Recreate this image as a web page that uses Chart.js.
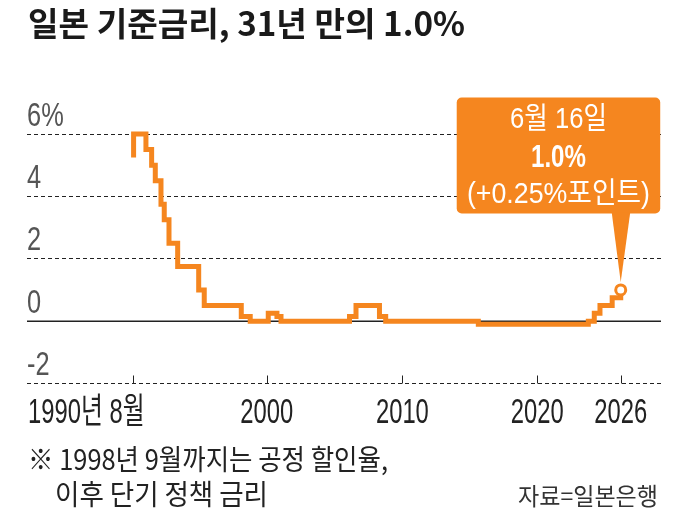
<!DOCTYPE html>
<html>
<head>
<meta charset="utf-8">
<script src="https://cdn.jsdelivr.net/npm/chart.js@4.4.1/dist/chart.umd.min.js"></script>
<style>
html, body { margin: 0; padding: 0; background: #fff; }
#wrap { position: relative; width: 696px; height: 516px; overflow: hidden; }
#myChart { position: absolute; left: 0; top: 0; }
.txt { position: absolute; white-space: nowrap; font-family: 'Noto Sans CJK KR', sans-serif; line-height: 1; transform-origin: 0 0; color: #222; }
#title { left: 28px; top: 6px; font-size: 33px; font-weight: bold; color: #1a1a1a; }
#note1 { left: 28px; top: 444px; font-size: 28px; }
#note2 { left: 55px; top: 479px; font-size: 28px; }
#source { left: 518px; top: 483px; font-size: 24px; color: #333; }
</style>
</head>
<body>
<div id="wrap">
  <canvas id="myChart" width="696" height="516"></canvas>
  <div class="txt" id="title">일본 기준금리, 31년 만의 1.0%</div>
  <div class="txt" id="note1">※ 1998년 9월까지는 공정 할인율,</div>
  <div class="txt" id="note2">이후 단기 정책 금리</div>
  <div class="txt" id="source">자료=일본은행</div>
</div>
<script>
// 금리 변경 시점(연 단위)과 그때부터의 금리(%)
const rateDates  = [1990.68, 1990.68, 1991.59, 1992.01, 1992.28, 1992.70, 1992.94, 1993.29, 1993.93,
                    1995.48, 1995.89, 1998.62, 1999.28, 2000.61, 2001.25, 2001.55, 2006.60, 2007.08,
                    2008.81, 2009.27, 2016.10, 2024.21, 2024.65, 2025.07, 2025.97, 2026.60];
const rateValues = [5.25, 6.0, 5.5, 5.0, 4.5, 3.75, 3.25, 2.5, 1.75,
                    1.0, 0.5, 0.15, 0.0, 0.25, 0.15, 0.0, 0.15, 0.5,
                    0.15, 0.0, -0.1, 0.0, 0.25, 0.5, 0.75, 1.0];

const xTickValues = [1990.6, 2000.5, 2010.5, 2020.45, 2026.6];
const xTickLabels = ['1990년 8월', '2000', '2010', '2020', '2026'];
const yTickValues = [-2, 0, 2, 4, 6];
const yTickLabels = ['-2', '0', '2', '4', '6%'];
const calloutLines = ['6월 16일', '1.0%', '(+0.25%포인트)'];

const orange = '#f5861f';

function drawText(ctx, text, x, y, font, color, align, sx) {
  ctx.save();
  ctx.font = font;
  ctx.fillStyle = color;
  ctx.textAlign = 'left';
  ctx.textBaseline = 'alphabetic';
  const w = ctx.measureText(text).width * sx;
  let x0 = x;
  if (align === 'center') x0 = x - w / 2;
  if (align === 'right') x0 = x - w;
  ctx.translate(x0, y);
  ctx.scale(sx, 1);
  ctx.fillText(text, 0, 0);
  ctx.restore();
}

function squeeze(ctx, text, font, width) {
  ctx.save();
  ctx.font = font;
  const w = ctx.measureText(text).width;
  ctx.restore();
  return width / w;
}

const axisPlugin = {
  id: 'axisPlugin',
  beforeDatasetsDraw(chart) {
    const ctx = chart.ctx;
    const area = chart.chartArea;
    const xs = chart.scales.x;
    const ys = chart.scales.y;

    // 0 기준선
    const y0 = Math.round(ys.getPixelForValue(0)) + 0.25;
    ctx.save();
    ctx.strokeStyle = '#222';
    ctx.lineWidth = 1.5;
    ctx.beginPath();
    ctx.moveTo(area.left, y0);
    ctx.lineTo(area.right, y0);
    ctx.stroke();

    // x축 눈금
    ctx.lineWidth = 1;
    xTickValues.forEach(function (v) {
      const x = Math.round(xs.getPixelForValue(v)) + 0.5;
      ctx.beginPath();
      ctx.moveTo(x, area.bottom);
      ctx.lineTo(x, area.bottom - 8);
      ctx.stroke();
    });
    ctx.restore();

    const xFont = "35px 'Liberation Sans', 'Noto Sans CJK KR'";
    xTickValues.forEach(function (v, i) {
      const x = xs.getPixelForValue(v);
      if (i === 0) {
        drawText(ctx, xTickLabels[i], area.left + 1, area.bottom + 39, xFont, '#222', 'left', 0.68);
      } else {
        drawText(ctx, xTickLabels[i], x, area.bottom + 39, xFont, '#222', 'center', 0.68);
      }
    });

    const yFont = "33px 'Liberation Sans', 'Noto Sans CJK KR'";
    yTickValues.forEach(function (v, i) {
      const y = ys.getPixelForValue(v);
      drawText(ctx, yTickLabels[i], area.left, y - 8.5, yFont, '#555', 'left', 0.77);
    });
  }
};

const calloutPlugin = {
  id: 'calloutPlugin',
  beforeDatasetsDraw(chart) {
    const ctx = chart.ctx;
    const meta = chart.getDatasetMeta(0);
    const last = meta.data[meta.data.length - 1];
    const px = last.x, py = last.y;
    const l = px - 164, r = px + 39.5, t = py - 192.5, b = py - 76.5;

    ctx.save();
    ctx.fillStyle = orange;
    ctx.beginPath();
    ctx.roundRect(l, t, r - l, b - t, 5);
    ctx.fill();
    ctx.beginPath();
    ctx.moveTo(px - 9, b - 1);
    ctx.lineTo(px + 9.5, b - 1);
    ctx.lineTo(px, py - 8);
    ctx.closePath();
    ctx.fill();
    ctx.restore();

    const cx = (l + r) / 2;
    const f1 = "30px 'Liberation Sans', 'Noto Sans CJK KR'";
    const f2 = "bold 31px 'Liberation Sans', 'Noto Sans CJK KR'";
    const f3 = "29px 'Liberation Sans', 'Noto Sans CJK KR'";
    drawText(ctx, calloutLines[0], cx, py - 161.5, f1, '#fff', 'center', squeeze(ctx, calloutLines[0], f1, 97));
    drawText(ctx, calloutLines[1], cx, py - 123, f2, '#fff', 'center', squeeze(ctx, calloutLines[1], f2, 55));
    drawText(ctx, calloutLines[2], cx, py - 87, f3, '#fff', 'center', squeeze(ctx, calloutLines[2], f3, 183));
  }
};

new Chart('myChart', {
  type: 'line',
  data: {
    datasets: [{
      data: rateDates.map(function (d, i) { return { x: d, y: rateValues[i] }; }),
      borderColor: orange,
      borderWidth: 5,
      stepped: true,
      borderJoinStyle: 'miter',
      borderCapStyle: 'butt',
      pointRadius: function (c) { return c.dataIndex === rateValues.length - 1 ? 5 : 0; },
      pointBorderWidth: 3,
      pointBorderColor: orange,
      pointBackgroundColor: '#fff',
      clip: false
    }]
  },
  options: {
    responsive: false,
    animation: false,
    events: [],
    layout: { padding: { left: 27, right: 35, top: 134, bottom: 132.5 } },
    plugins: { legend: { display: false }, tooltip: { enabled: false } },
    scales: {
      x: { type: 'linear', min: 1982.82, max: 2029.57, display: false },
      y: {
        min: -2,
        max: 6,
        afterBuildTicks: function (s) { s.ticks = yTickValues.map(function (v) { return { value: v }; }); },
        ticks: { display: false },
        border: { display: false, dash: [4, 3] },
        grid: {
          drawTicks: false,
          lineWidth: 1,
          color: function (c) { return c.tick && c.tick.value === 0 ? 'rgba(0,0,0,0)' : '#222'; }
        }
      }
    }
  },
  plugins: [axisPlugin, calloutPlugin]
});

// 제목과 주석은 원본처럼 좁은 글꼴 폭에 맞춤
const textWidths = { title: 437, note1: 360, note2: 213, source: 140 };
document.fonts.ready.then(function () {
  Object.keys(textWidths).forEach(function (id) {
    const el = document.getElementById(id);
    const k = textWidths[id] / el.getBoundingClientRect().width;
    el.style.transform = 'scaleX(' + k + ')';
  });
});
</script>
</body>
</html>
